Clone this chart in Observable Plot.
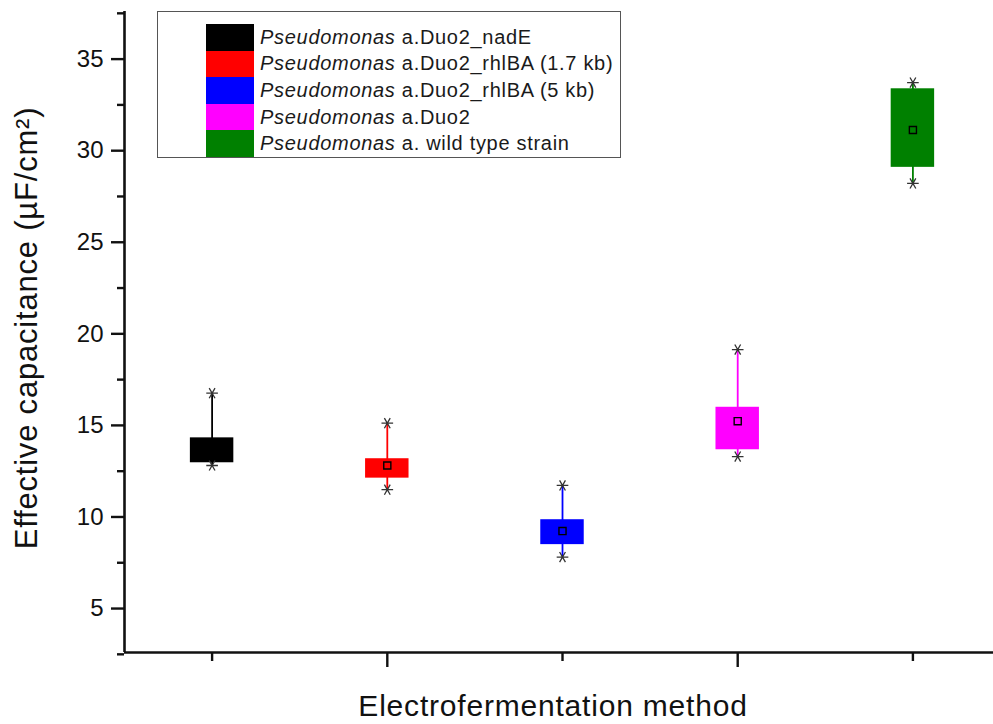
<!DOCTYPE html>
<html>
<head>
<meta charset="utf-8">
<script src="https://cdn.jsdelivr.net/npm/d3@7"></script>
<script src="https://cdn.jsdelivr.net/npm/@observablehq/plot@0.6"></script>
<style>
  html, body { margin: 0; padding: 0; background: #fff; }
  #wrap { position: relative; width: 993px; height: 724px; overflow: hidden; font-family: "Liberation Sans", Arial, sans-serif; }
  #legend { position: absolute; left: 157px; top: 11px; width: 462px; height: 145px; border: 1.5px solid #555; background: #fff; }
  .row { position: absolute; left: 48px; height: 26.6px; display: flex; align-items: center; }
  .sw { width: 48px; height: 26.6px; }
  .lab { margin-left: 6px; font-size: 20px; letter-spacing: 0.7px; color: #1a1a1a; white-space: nowrap; }
</style>
</head>
<body>
<div id="wrap"></div>
<script>
// ---- data ----
const categories = ["Duo2_nadE", "Duo2_rhlBA (1.7 kb)", "Duo2_rhlBA (5 kb)", "Duo2", "wild type strain"];
const legendItalic = ["Pseudomonas", "Pseudomonas", "Pseudomonas", "Pseudomonas", "Pseudomonas"];
const legendRest = [" a.Duo2_nadE", " a.Duo2_rhlBA (1.7 kb)", " a.Duo2_rhlBA (5 kb)", " a.Duo2", " a. wild type strain"];
const positions = [1, 2, 3, 4, 5];
const q1 = [12.96, 12.12, 8.49, 13.67, 29.09];
const q3 = [14.32, 13.18, 9.85, 15.99, 33.38];
const minV = [12.81, 11.49, 7.81, 13.30, 28.21];
const maxV = [16.76, 15.12, 11.72, 19.14, 33.72];
const meanV = [13.60, 12.81, 9.23, 15.23, 31.13];
const colors = ["#000000", "#ff0000", "#0000ff", "#ff00ff", "#008000"];
const yMajor = [5, 10, 15, 20, 25, 30, 35];
const yMinor = [2.5, 7.5, 12.5, 17.5, 22.5, 27.5, 32.5, 37.5];
const xShort = [1, 3, 5];
const xLong = [2, 4];
const yLabel = "Effective capacitance (\u00B5F/cm\u00B2)";
const xLabel = "Electrofermentation method";

const rows = categories.map((c, i) => ({
  cat: c, x: positions[i], q1: q1[i], q3: q3[i], lo: minV[i], hi: maxV[i], mean: meanV[i], color: colors[i]
}));
const extremes = rows.flatMap(r => [{x: r.x, y: r.lo}, {x: r.x, y: r.hi}]);
const halfW = 0.124;

const chart = Plot.plot({
  width: 993,
  height: 724,
  marginLeft: 124,
  marginRight: 0,
  marginTop: 11,
  marginBottom: 72,
  style: {fontFamily: "'Liberation Sans', Arial, sans-serif", background: "transparent", color: "#111", overflow: "visible"},
  x: {domain: [0.5, 5.46], axis: null},
  y: {domain: [2.6, 37.6], axis: null},
  marks: [
    Plot.axisY({ticks: yMinor, tickSize: 7, tickFormat: () => "", strokeWidth: 2.4, label: null}),
    Plot.axisY({ticks: yMajor, tickSize: 13, tickPadding: 8, fontSize: 24, tickFormat: d => String(d), strokeWidth: 2.4, label: null}),
    Plot.axisX({ticks: xShort, tickSize: 9, tickFormat: () => "", strokeWidth: 2.4, label: null}),
    Plot.axisX({ticks: xLong, tickSize: 15, tickFormat: () => "", strokeWidth: 2.4, label: null}),
    Plot.ruleX([0.5], {stroke: "#111", strokeWidth: 2.6}),
    Plot.ruleY([2.6], {stroke: "#111", strokeWidth: 2.6}),
    Plot.ruleX(rows, {x: "x", y1: "lo", y2: "hi", stroke: "color", strokeWidth: 1.8}),
    Plot.rect(rows, {x1: d => d.x - halfW, x2: d => d.x + halfW, y1: "q1", y2: "q3", fill: "color"}),
    Plot.dot(extremes, {x: "x", y: "y", symbol: "asterisk", r: 5.5, rotate: 90, stroke: "#333", strokeWidth: 1.3}),
    Plot.dot(rows, {x: "x", y: "mean", symbol: "square", r: 4, fill: "none", stroke: "#000", strokeWidth: 1.4}),
    Plot.text([yLabel], {frameAnchor: "left", rotate: -90, dx: -97, dy: -4, fontSize: 31, fill: "#111", lineAnchor: "middle", textAnchor: "middle"}),
    Plot.text([xLabel], {frameAnchor: "bottom", dx: -6, dy: 54, fontSize: 30, fill: "#111", lineAnchor: "middle", textAnchor: "middle"})
  ]
});
chart.style.position = "absolute";
chart.style.left = "0px";
chart.style.top = "0px";
chart.querySelectorAll("text").forEach(t => { if (t.textContent === xLabel || t.textContent === yLabel) t.style.letterSpacing = "0.8px"; });
chart.querySelectorAll('g[aria-label$="tick"]').forEach(g => g.setAttribute("stroke-width", "2.4"));

const wrap = document.getElementById("wrap");
wrap.appendChild(chart);

const legend = document.createElement("div");
legend.id = "legend";
categories.forEach((c, i) => {
  const row = document.createElement("div");
  row.className = "row";
  row.style.top = (12 + i * 26.6) + "px";
  const sw = document.createElement("div");
  sw.className = "sw";
  sw.style.background = colors[i];
  const lab = document.createElement("span");
  lab.className = "lab";
  const it = document.createElement("i");
  it.textContent = legendItalic[i];
  lab.appendChild(it);
  lab.appendChild(document.createTextNode(legendRest[i]));
  row.appendChild(sw);
  row.appendChild(lab);
  legend.appendChild(row);
});
wrap.appendChild(legend);
</script>
</body>
</html>
